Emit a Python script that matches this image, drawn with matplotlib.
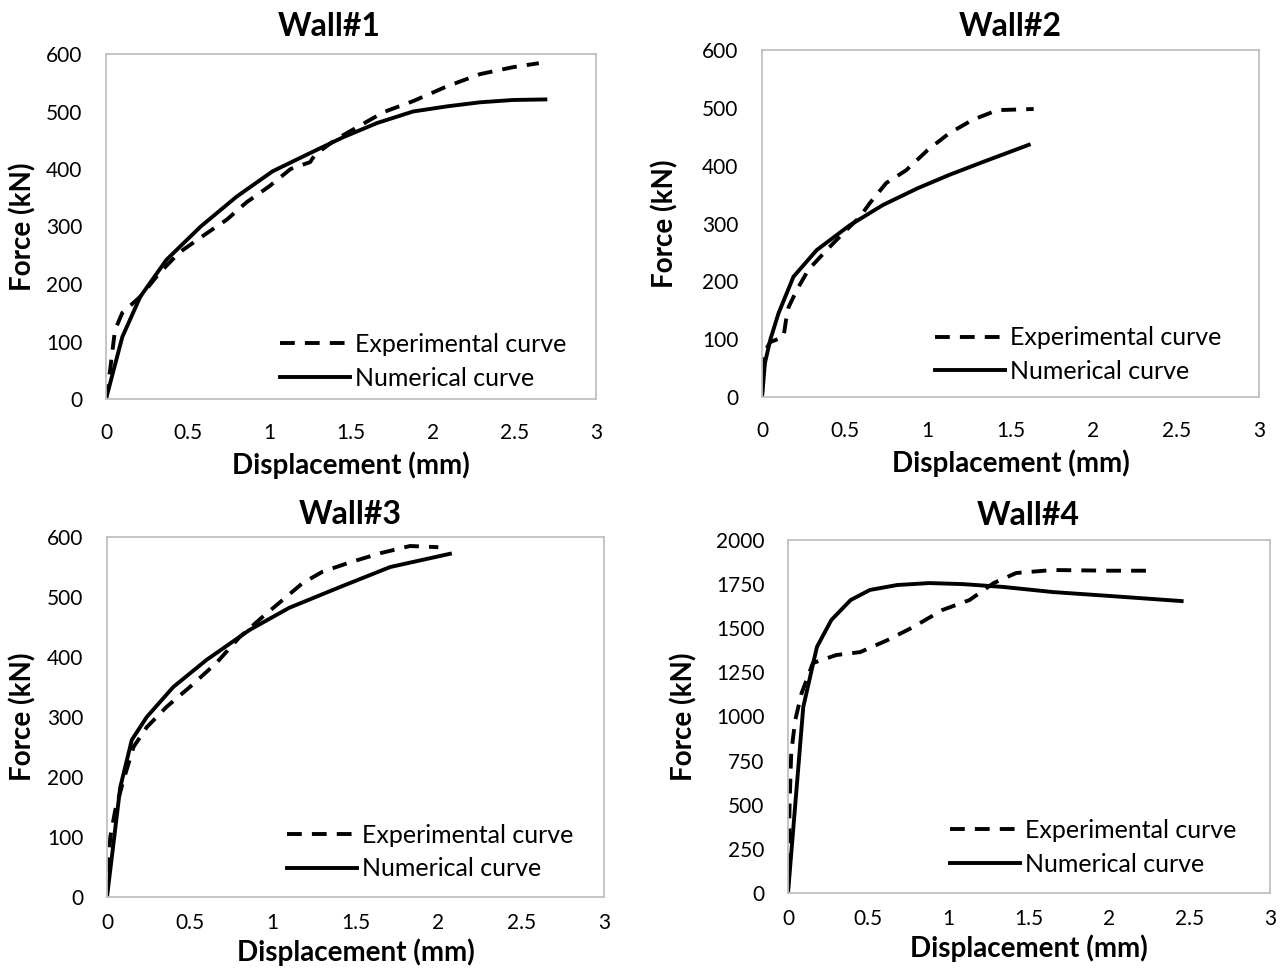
import matplotlib
matplotlib.use("Agg")
import matplotlib.pyplot as plt

plt.rcParams['font.family'] = ['Lato', 'DejaVu Sans']

# Wall#1
w1_exp_d = [0, 0.025, 0.055, 0.10, 0.21, 0.33, 0.45, 0.59, 0.74, 0.86, 1.00, 1.13, 1.25, 1.28, 1.41, 1.54, 1.70, 1.88, 2.09, 2.29, 2.49, 2.65]
w1_exp_f = [0, 50, 120, 150, 178, 220, 255, 283, 312, 342, 370, 400, 412, 425, 452, 473, 499, 518, 544, 565, 577, 584]
w1_num_d = [0, 0.10, 0.21, 0.37, 0.58, 0.80, 1.02, 1.23, 1.45, 1.66, 1.88, 2.09, 2.29, 2.49, 2.69]
w1_num_f = [0, 108, 178, 242, 300, 352, 396, 425, 455, 480, 500, 509, 516, 520, 521]

# Wall#2
w2_exp_d = [0, 0.01, 0.05, 0.13, 0.145, 0.16, 0.21, 0.28, 0.39, 0.51, 0.59, 0.65, 0.75, 0.87, 1.00, 1.13, 1.27, 1.42, 1.64]
w2_exp_f = [0, 75, 95, 104, 133, 155, 185, 220, 254, 289, 311, 335, 370, 392, 427, 456, 479, 496, 498]
w2_num_d = [0, 0.018, 0.05, 0.10, 0.19, 0.33, 0.53, 0.73, 0.94, 1.13, 1.33, 1.61]
w2_num_f = [0, 59, 99, 145, 208, 254, 297, 332, 361, 384, 406, 436]

# Wall#3
w3_exp_d = [0, 0.005, 0.02, 0.05, 0.10, 0.16, 0.24, 0.36, 0.50, 0.66, 0.80, 0.94, 1.06, 1.18, 1.30, 1.47, 1.65, 1.83, 2.00]
w3_exp_f = [0, 45, 100, 145, 195, 250, 283, 317, 350, 390, 433, 467, 495, 523, 542, 558, 573, 585, 583]
w3_num_d = [0, 0.08, 0.15, 0.24, 0.40, 0.60, 0.86, 1.10, 1.41, 1.71, 2.07]
w3_num_f = [0, 183, 262, 300, 350, 395, 445, 482, 517, 550, 572]

# Wall#4
w4_exp_d = [0, 0.005, 0.01, 0.02, 0.045, 0.085, 0.155, 0.30, 0.45, 0.62, 0.78, 0.96, 1.13, 1.28, 1.42, 1.65, 2.00, 2.28]
w4_exp_f = [0, 227, 510, 793, 980, 1133, 1303, 1348, 1365, 1433, 1507, 1603, 1660, 1756, 1813, 1830, 1826, 1826]
w4_num_d = [0, 0.095, 0.18, 0.27, 0.39, 0.51, 0.68, 0.88, 1.09, 1.34, 1.65, 2.00, 2.45]
w4_num_f = [0, 1054, 1394, 1547, 1660, 1717, 1745, 1756, 1750, 1734, 1705, 1683, 1654]

titles = ["Wall#1", "Wall#2", "Wall#3", "Wall#4"]
curves = [(w1_exp_d, w1_exp_f, w1_num_d, w1_num_f),
          (w2_exp_d, w2_exp_f, w2_num_d, w2_num_f),
          (w3_exp_d, w3_exp_f, w3_num_d, w3_num_f),
          (w4_exp_d, w4_exp_f, w4_num_d, w4_num_f)]
yticks = [list(range(0, 601, 100)), list(range(0, 601, 100)),
          list(range(0, 601, 100)), list(range(0, 2001, 250))]
xticks = [0, 0.5, 1, 1.5, 2, 2.5, 3]
xticklabels = ["0", "0.5", "1", "1.5", "2", "2.5", "3"]

# axes boxes in pixels: left, top, right, bottom
W, H = 1288, 975
boxes = [(106, 54, 596, 399), (762, 50, 1259, 397),
         (107, 537, 604, 897), (788, 540, 1270, 893)]
title_x = [0.455, 0.5, 0.489, 0.498]
title_pad = [13, 10, 9.5, 11]
xtick_pad = [17.5, 17.5, 11.5, 11.5]
xlabel_pad = [6, 6, 4, 4]
ylabel_x = [-0.141, -0.169, -0.141, -0.187]
legend_xy = [(0.355, 0.109), (0.348, 0.122), (0.362, 0.125), (0.336, 0.129)]

fig = plt.figure(figsize=(W / 100, H / 100), dpi=100)
for i, (l, t, r, b) in enumerate(boxes):
    ax = fig.add_axes([l / W, 1 - b / H, (r - l) / W, (b - t) / H])
    ed, ef, nd, nf = curves[i]
    ax.plot(ed, ef, color="black", lw=2.8, ls=(0, (3.8, 2.6)), label="Experimental curve")
    ax.plot(nd, nf, color="black", lw=2.8, label="Numerical curve")
    ax.set_xlim(0, 3)
    ax.set_ylim(0, yticks[i][-1])
    ax.set_xticks(xticks)
    ax.set_xticklabels(xticklabels)
    ax.set_yticks(yticks[i])
    ax.tick_params(length=0, labelsize=15)
    ax.tick_params(axis="y", pad=17)
    ax.tick_params(axis="x", pad=xtick_pad[i])
    for s in ax.spines.values():
        s.set_color("#c0c0c0")
        s.set_linewidth(1.3)
    ax.set_title(titles[i], fontsize=23, fontweight="bold", pad=title_pad[i], x=title_x[i])
    ax.set_xlabel("Displacement (mm)", fontsize=20, fontweight="bold", labelpad=xlabel_pad[i])
    ax.set_ylabel("Force (kN)", fontsize=20, fontweight="bold")
    ax.yaxis.set_label_coords(ylabel_x[i], 0.5)
    ax.legend(loc="center left", bbox_to_anchor=legend_xy[i], frameon=False,
              borderpad=0, borderaxespad=0, fontsize=18, handlelength=2.8,
              handletextpad=0.2, labelspacing=0.42)

fig.savefig("out.png", dpi=100)
